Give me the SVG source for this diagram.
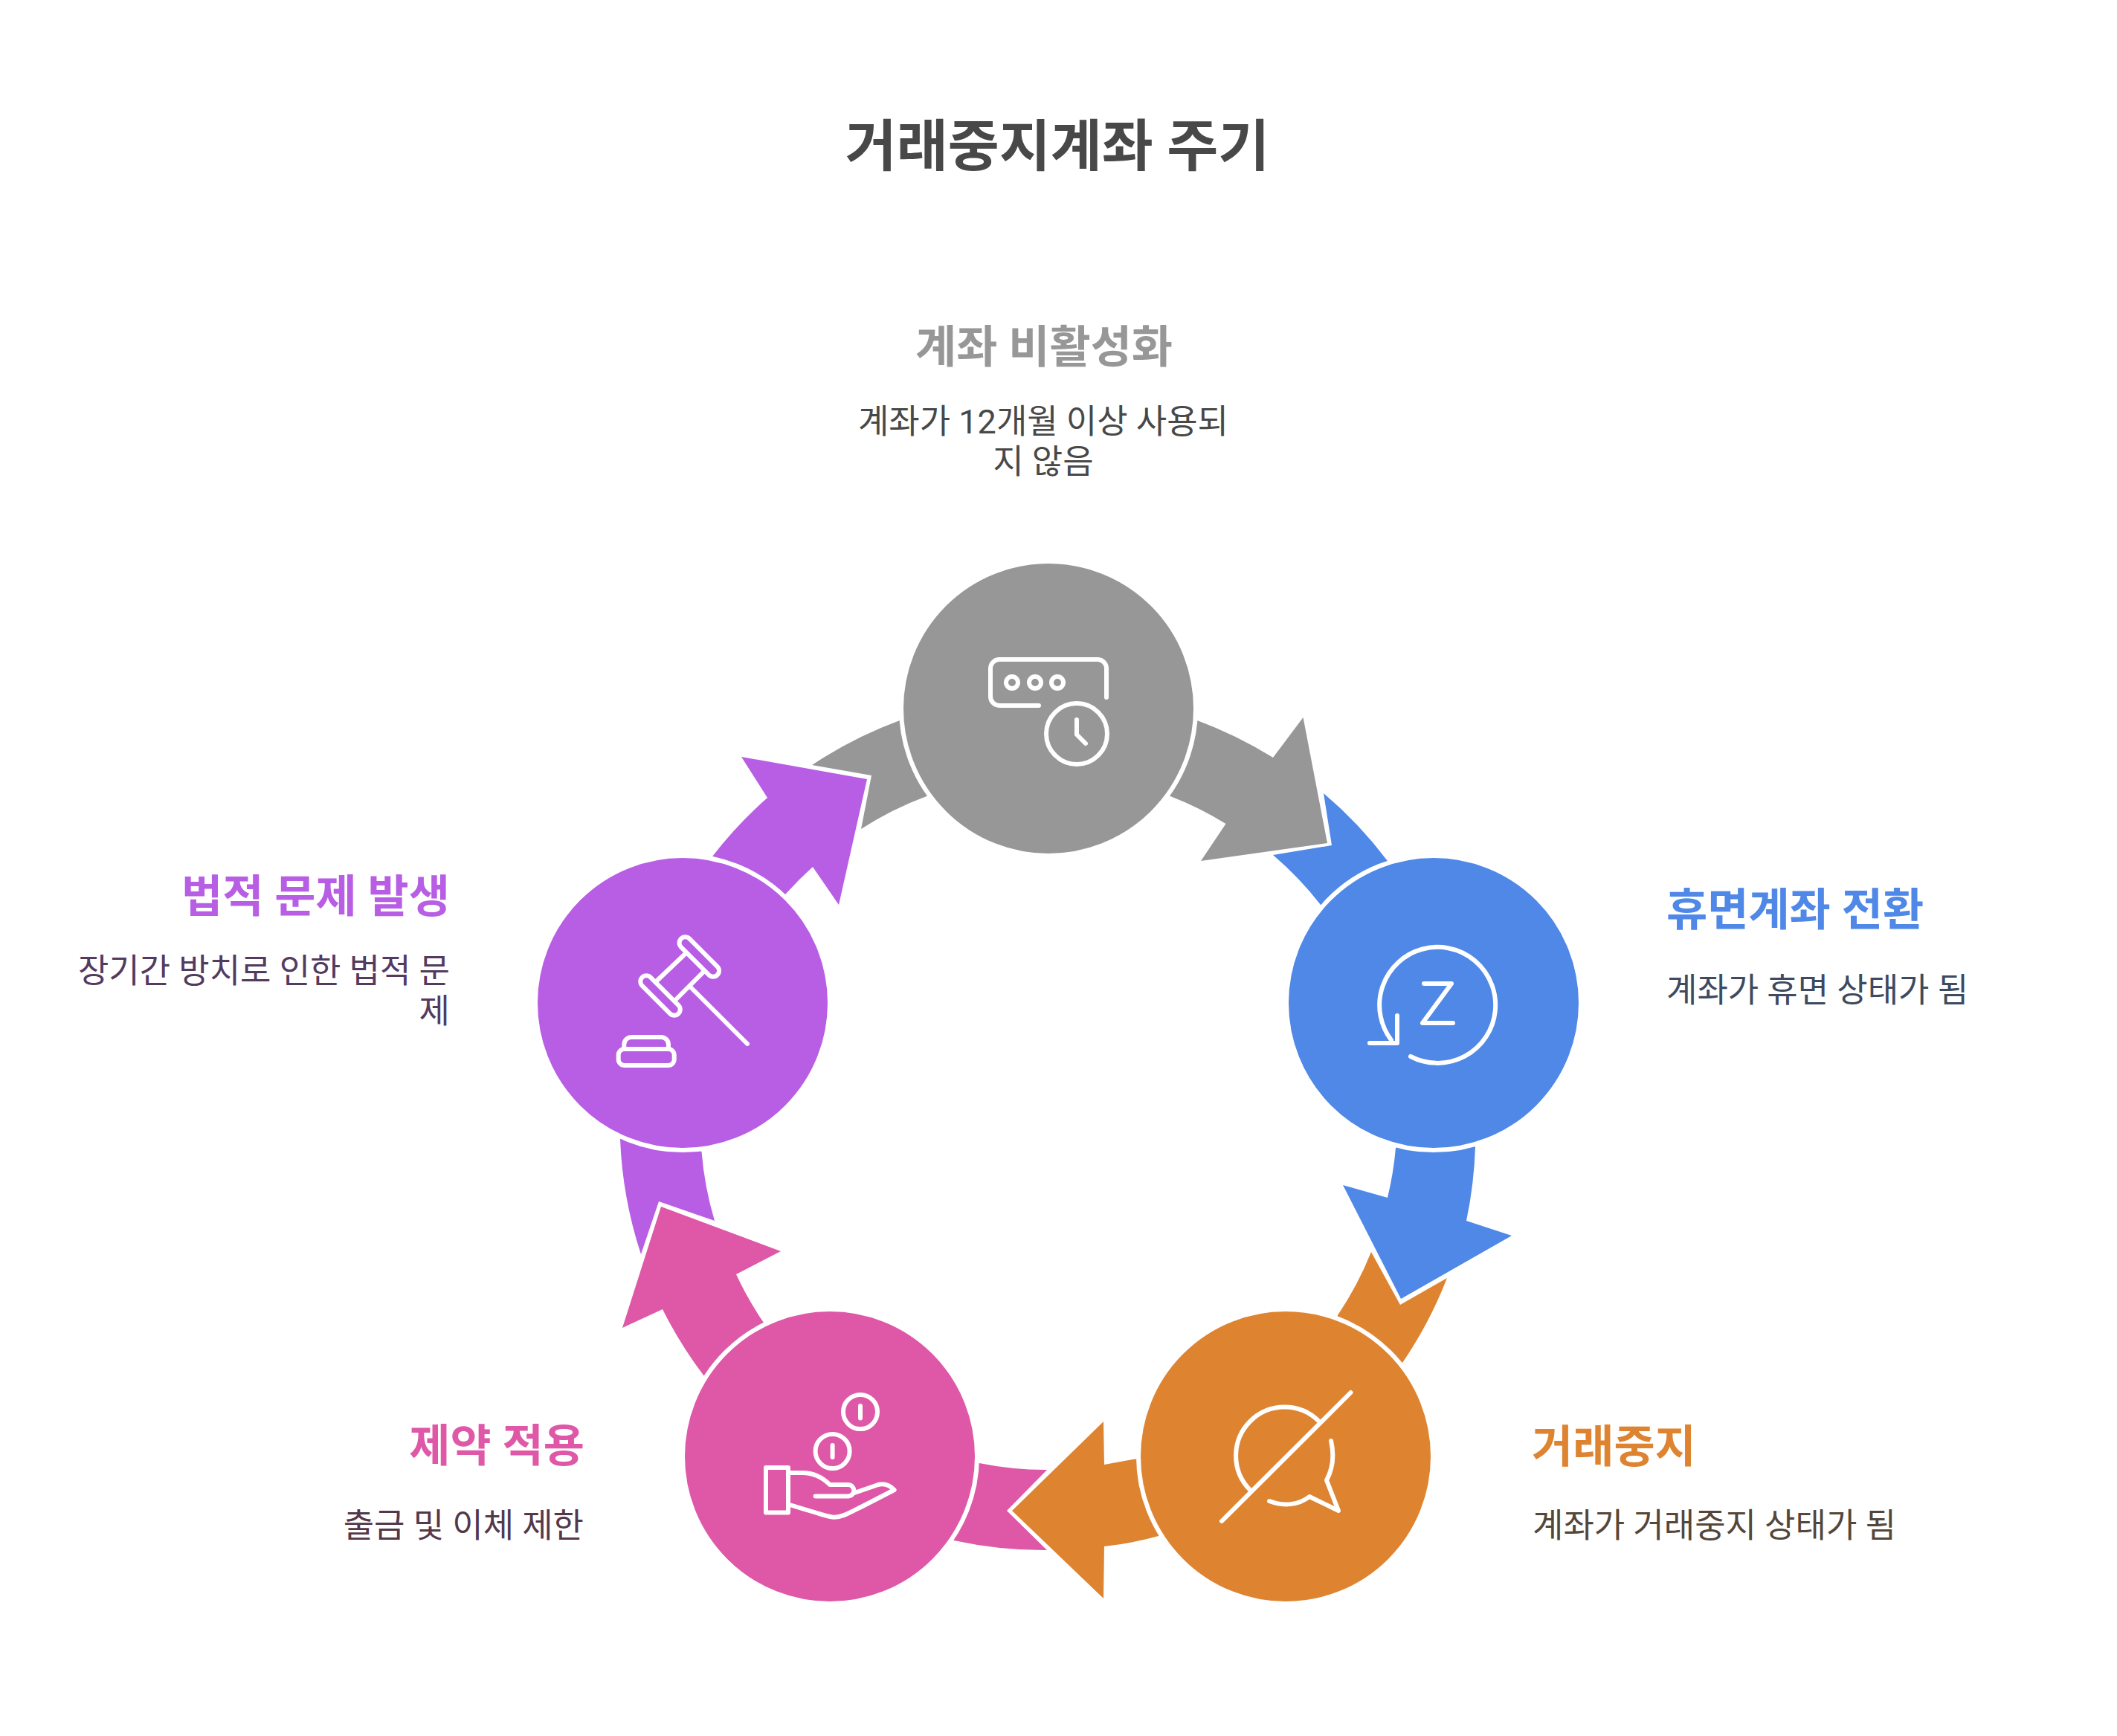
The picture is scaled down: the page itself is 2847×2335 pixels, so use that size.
<svg xmlns="http://www.w3.org/2000/svg" width="2847" height="2335" viewBox="0 0 2847 2335">
<style>
text{font-family:Roboto,"Noto Sans CJK KR","Noto Sans",sans-serif}
.t{font-size:75px;font-weight:700;fill:#484848;text-anchor:middle}
.h{font-size:60px;font-weight:700}
.d{font-size:45px;font-weight:400}
.e{text-anchor:end}.m{text-anchor:middle}
.c{stroke:#fff;stroke-width:6}
.i{fill:none;stroke:#fff;stroke-width:6;stroke-linecap:round;stroke-linejoin:round}
</style>
<rect width="2847" height="2335" fill="#fff"/>
<text class="t" x="1422" y="223">거래중지계좌 주기</text>
<g id="connectors">
<path id="c-gray" fill="#979797" d="M1610 969A567 567 0 0 1 1712 1019L1752.5 965L1785 1134L1615 1158L1648.5 1108A455 455 0 0 0 1574 1071L1500 1000ZM1210 969A567 567 0 0 0 1092 1029L1172 1043L1158 1115A455 455 0 0 1 1246 1071L1320 1000Z"/>
<path id="c-blue" fill="#4f88e6" d="M1780 1067A565 565 0 0 1 1866 1158L1850 1260L1776 1217A455 455 0 0 0 1712 1150L1791 1137ZM1984 1542A563 563 0 0 1 1972 1642L2033 1662L1884 1747L1806 1594L1866 1611A455 455 0 0 0 1877 1544L1930 1500Z"/>
<path id="c-orange" fill="#de8431" d="M1844 1684L1883 1755L1946 1719A563 563 0 0 1 1886 1833L1780 1850L1799 1769A455 455 0 0 0 1844 1684ZM1529 1962L1485 1970L1484 1912L1361 2032L1484 2150L1485 2080A455 455 0 0 0 1558 2066L1620 2000Z"/>
<path id="c-pink" fill="#de58a7" d="M1317 1968A455 455 0 0 0 1408 1977L1354 2032L1408 2085A563 563 0 0 1 1283 2072L1220 2020ZM889 1623L1050 1683L990 1714A455 455 0 0 0 1027 1779L1030 1850L947 1851A563 563 0 0 1 891 1761L837 1786Z"/>
<path id="c-purple" fill="#b85ee4" d="M943.5 1549A455 455 0 0 0 961 1642L886 1616L862 1687A563 563 0 0 1 834 1532L890 1500ZM1166 1048L997 1018L1032 1073A565 565 0 0 0 958 1152L1000 1250L1057 1202A455 455 0 0 1 1093 1166L1128 1217Z"/>
</g>
<g id="node-inactive">
<circle class="c" cx="1410" cy="953" r="198" fill="#979797"/>
<path class="i" d="M1397 949H1344a12 12 0 0 1-12-12V899a12 12 0 0 1 12-12H1476a12 12 0 0 1 12 12V938"/>
<circle class="i" cx="1361" cy="918" r="8"/><circle class="i" cx="1392" cy="918" r="8"/><circle class="i" cx="1422" cy="918" r="8"/>
<circle class="i" cx="1448" cy="987" r="41"/>
<path class="i" d="M1448 968V988L1460 1000"/>
<text class="h m" x="1404" y="488" fill="#979797">계좌 비활성화</text>
<text class="d m" x="1403" y="583" fill="#484848">계좌가 12개월 이상 사용되</text>
<text class="d m" x="1403" y="637" fill="#484848">지 않음</text>
</g>
<g id="node-dormant">
<circle class="c" cx="1928" cy="1349" r="198" fill="#4f88e6"/>
<path class="i" d="M1897 1421A78 78 0 1 0 1871 1399"/>
<path class="i" d="M1879 1366V1403H1842M1915 1323H1952L1913 1376H1954"/>
<text class="h" x="2241" y="1245" fill="#4f88e6">휴면계좌 전환</text>
<text class="d" x="2241" y="1348" fill="#3d4a5f">계좌가 휴면 상태가 됨</text>
</g>
<g id="node-suspended">
<circle class="c" cx="1729" cy="1959" r="198" fill="#de8431"/>
<path class="i" d="M1643 2046L1816.5 1873M1774 1912A65 65 0 0 0 1681 2004M1707 2019C1725 2026 1746 2025 1761 2013L1800 2032L1784 1991C1793 1974 1794 1955 1790 1938"/>
<text class="h" x="2060" y="1967" fill="#de8431">거래중지</text>
<text class="d" x="2061" y="2068" fill="#55463a">계좌가 거래중지 상태가 됨</text>
</g>
<g id="node-restricted">
<circle class="c" cx="1116" cy="1959" r="198" fill="#de58a7"/>
<circle class="i" cx="1157" cy="1899" r="23"/><circle class="i" cx="1119.6" cy="1952" r="23"/>
<path class="i" d="M1157 1891V1907.5M1119.6 1944V1960M1030 1974H1060V2034.5H1030ZM1062 1981H1079C1094 1981 1106 1987 1116 1997H1140.6a7.7 7.7 0 0 1 0 15.5H1096.6M1149 2008L1181 1997C1189 1995 1197 1998 1202.6 2004L1158 2027C1142 2035 1132 2041 1121.5 2040.7C1113 2040 1105 2037 1098.5 2035L1062 2024"/>
<text class="h e" x="786" y="1966" fill="#de58a7">제약 적용</text>
<text class="d e" x="785" y="2068" fill="#54384a">출금 및 이체 제한</text>
</g>
<g id="node-legal">
<circle class="c" cx="918" cy="1349" r="198" fill="#b85ee4"/>
<rect class="i" x="905.8" y="1279" width="69" height="16" rx="8" transform="rotate(45 940.3 1287)"/>
<rect class="i" x="853.5" y="1331" width="69" height="16" rx="8" transform="rotate(45 888 1339)"/>
<path class="i" d="M921.7 1282.7L881.7 1320.7M946.7 1306.7L908.3 1345M930 1329L1005 1404"/>
<rect class="i" x="831.7" y="1411" width="75" height="22" rx="8"/>
<path class="i" d="M839.3 1411V1405a10 10 0 0 1 10-10H889a10 10 0 0 1 10 10V1411"/>
<text class="h e" x="605" y="1227" fill="#b85ee4">법적 문제 발생</text>
<text class="d e" x="605" y="1322" fill="#533a5f">장기간 방치로 인한 법적 문</text>
<text class="d e" x="605" y="1376" fill="#533a5f">제</text>
</g>
</svg>
